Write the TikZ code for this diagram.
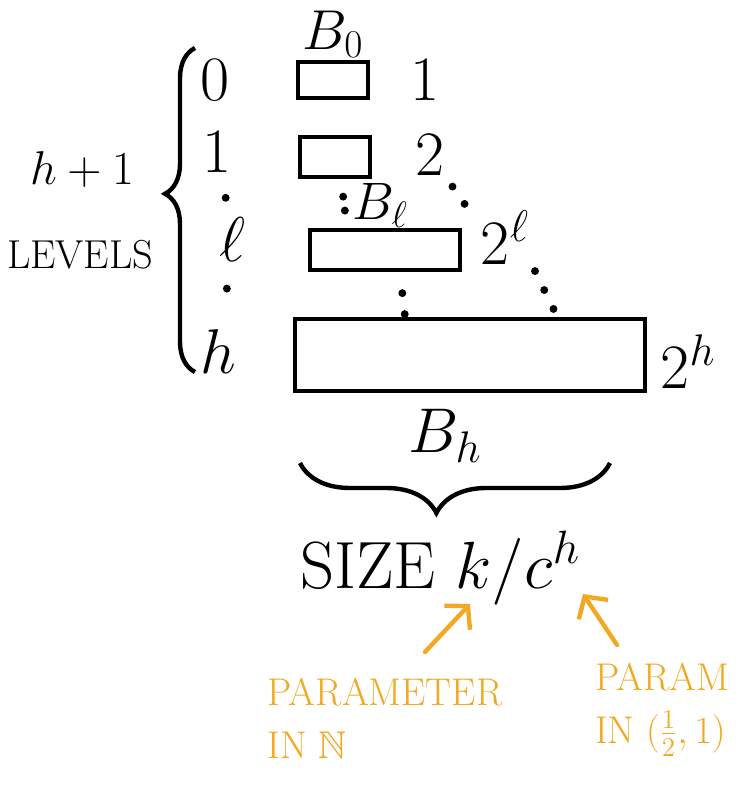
\RequirePackage{fix-cm}
\documentclass[tikz,border=0pt]{standalone}
\usepackage{amsmath}
\usepackage{amssymb}
\usetikzlibrary{decorations.pathreplacing,arrows.meta}

\definecolor{noteorange}{RGB}{242,168,32}

\tikzset{
  lvltext/.style={font=\fontsize{36}{40}\selectfont},
  blk/.style={draw,line width=2.5pt},
  dotline/.style={line width=4.5pt,line cap=round,dash pattern=on 0pt off 12pt},
  curly/.style={line width=2.5pt,decorate,decoration={brace,amplitude=#1}},
  note/.style={text=noteorange,font=\fontsize{22}{30}\selectfont,align=left},
  notearrow/.style={draw=noteorange,line width=2.5pt,line cap=round,-{Straight Barb[length=9pt,width=20pt]}}
}

\begin{document}
\begin{tikzpicture}[x=0.02cm,y=-0.02cm]
\useasboundingbox (0,0) rectangle (745,795);

% level numbers
\node[lvltext] (lvl0) at (215,80) {$0$};
\node[lvltext] (lvl1) at (217,152) {$1$};
\node[lvltext] (lvll) at (232,240) {$\ell$};
\node[lvltext] (lvlh) at (218,352) {$h$};

% the blocks
\node[blk,minimum width=1.4cm,minimum height=0.72cm] (box0) at (333,80) {};
\node[blk,minimum width=1.4cm,minimum height=0.8cm] (box1) at (335,157) {};
\node[blk,minimum width=3cm,minimum height=0.8cm] (boxl) at (385,250) {};
\node[blk,minimum width=7cm,minimum height=1.45cm] (boxh) at (470,355) {};

\node[font=\fontsize{32}{36}\selectfont,anchor=south,inner sep=1pt] (b0) at (box0.north) {$B_0$};
\node[font=\fontsize{30}{34}\selectfont,anchor=south,inner sep=0pt] (bl) at ([xshift=-0.1cm]boxl.north) {$B_\ell$};
\node[lvltext,anchor=north] (bh) at ([xshift=-0.5cm,yshift=-0.2cm]boxh.south) {$B_h$};

% number of blocks per level
\node[lvltext] (cnt0) at (425,80) {$1$};
\node[lvltext] (cnt1) at (430,155) {$2$};
\node[lvltext] (cntl) at (505,238) {$2^\ell$};
\node[lvltext] (cnth) at (688,362) {$2^h$};

% elided levels
\draw[dotline,shorten <=12pt] (lvl1.south) -- (lvll.north);
\draw[dotline,shorten <=12pt,shorten >=10pt] (lvll.south) -- (lvlh.north);
\draw[dotline,dash pattern=on 0pt off 8pt,shorten <=10pt,shorten >=5pt] ([xshift=0.12cm]box1.south) -- ([xshift=-0.76cm]boxl.north);
\draw[dotline,shorten <=12pt] ([xshift=0.3cm]boxl.south) -- ([xshift=-1.3cm]boxh.north);
\draw[dotline,shorten >=2pt] ([xshift=0.45cm,yshift=-0.1cm]cnt1.south) -- ([xshift=-0.55cm,yshift=-0.35cm]cntl.north);
\draw[dotline,shorten >=4pt] ([xshift=0.6cm]cntl.south) -- ([xshift=-1.8cm]boxh.north east);

% levels brace
\draw[curly={0.6cm},decoration={aspect=0.55}] (195,372) -- (195,48);
\node[font=\fontsize{27}{32}\selectfont] (hone) at (82,170) {$h+1$};
\node[font=\fontsize{23}{28}\selectfont] (levels) at (80,255) {LEVELS};

% block size brace
\draw[curly={1cm},decoration={aspect=0.56}] (610,463) -- (300,463);
\node[font=\fontsize{38}{44}\selectfont] (size) at (440,568) {SIZE $k/c^h$};

% remarks
\node[note] (param1) at (385,718) {PARAMETER\\IN $\mathbb{N}$};
\node[note] (param2) at (662,710) {PARAM\\IN $(\tfrac{1}{2},1)$};
\coordinate (ktip) at (470,604);
\coordinate (ctip) at (583,594);
\coordinate (from1) at (425,652);
\coordinate (from2) at (617,645);
\draw[notearrow] (from1) -- (ktip);
\draw[notearrow] (from2) -- (ctip);
\end{tikzpicture}
\end{document}
